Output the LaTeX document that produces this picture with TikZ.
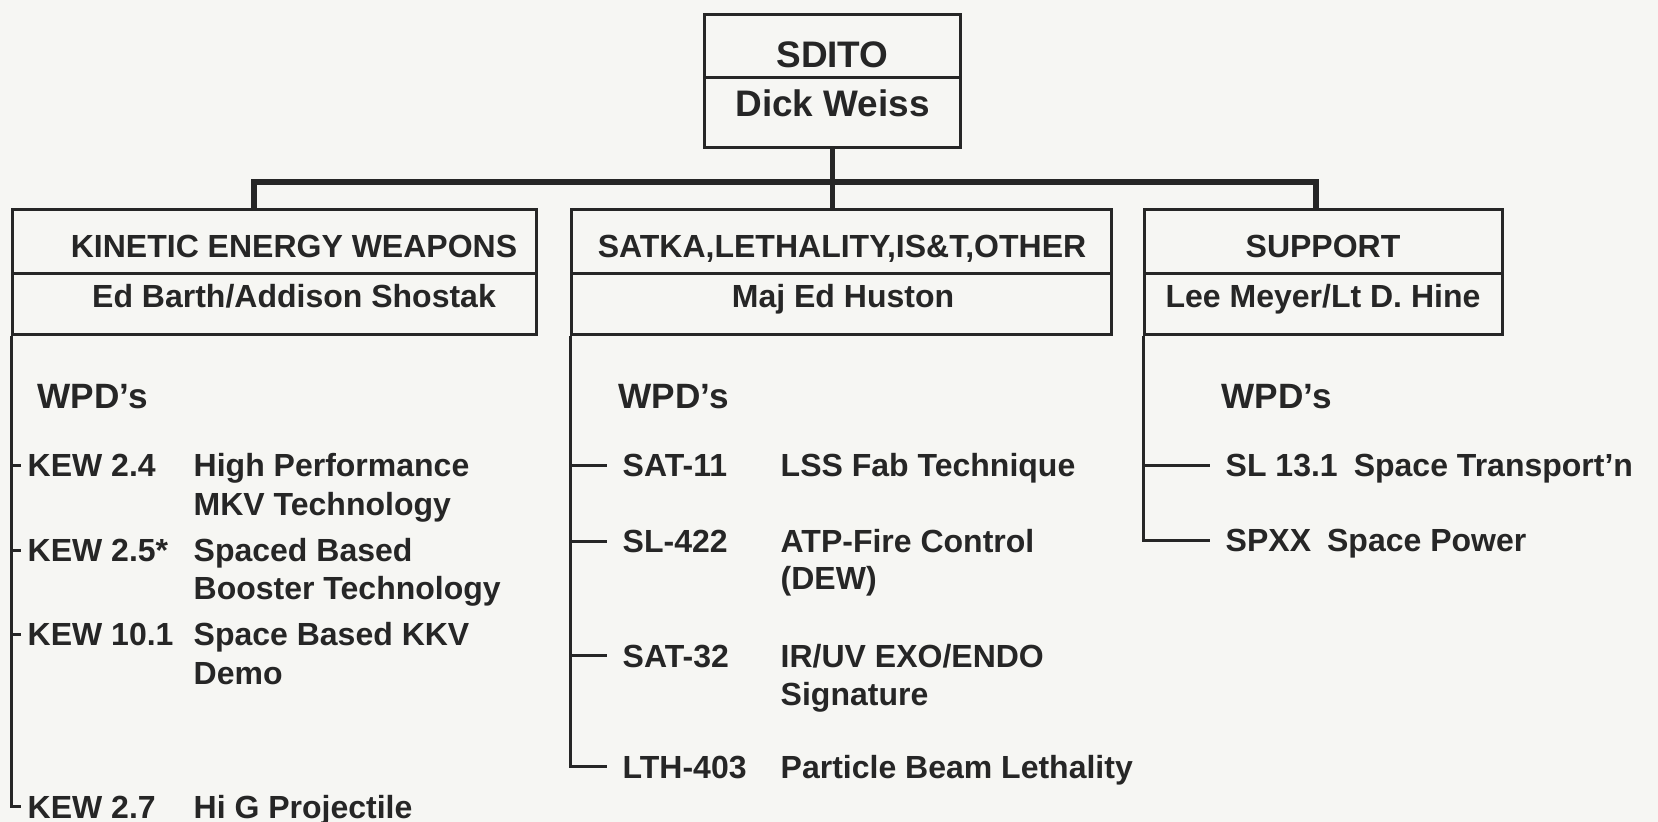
\documentclass[tikz,border=0pt]{standalone}
\usepackage{fontspec}
\setmainfont{Liberation Sans}
\usetikzlibrary{calc,positioning}
\definecolor{inkGray}{RGB}{38,38,38}
\definecolor{paperWhite}{RGB}{246,246,243}

\begin{document}
\begin{tikzpicture}[x=0.01cm,y=-0.01cm,
  every node/.style={text=inkGray,font=\bfseries\fontsize{9.1}{11}\selectfont},
  orgbox/.style={draw=inkGray,line width=.85pt,inner sep=0pt},
  divider/.style={draw=inkGray,line width=.85pt},
  head/.style={anchor=base,inner sep=0pt},
  bighead/.style={head,font=\bfseries\fontsize{10.5}{12}\selectfont},
  wpd/.style={anchor=base west,inner sep=0pt,font=\bfseries\fontsize{10}{12}\selectfont},
  code/.style={anchor=base west,inner xsep=.15cm,inner ysep=0pt,text height=6.5pt,text depth=0pt},
  kewcode/.style={code,inner xsep=.06cm},
  descr/.style={anchor=base west,inner sep=0pt},
  bus/.style={draw=inkGray,line width=1.9pt,line cap=rect},
  link/.style={draw=inkGray,line width=1.5pt},
  tree/.style={draw=inkGray,line width=.85pt}]
\fill[paperWhite] (0,0) rectangle (1658,822);
\useasboundingbox (0,0) rectangle (1658,822);

% top box
\node[orgbox,minimum width=2.55cm,minimum height=1.32cm] (sdito) at (832.5,81) {};
\draw[divider] (sdito.west |- 0,78) -- (sdito.east |- 0,78);
\node[bighead] (sditoT) at (832.5,68) {SDITO};
\node[bighead] (sditoN) at (832.5,117) {Dick Weiss};

% second row boxes
\node[orgbox,minimum width=5.23cm,minimum height=1.24cm] (kew) at (274.5,272) {};
\node[orgbox,minimum width=5.39cm,minimum height=1.24cm] (sat) at (841.5,272) {};
\node[orgbox,minimum width=3.57cm,minimum height=1.24cm] (sup) at (1323.5,272) {};
\draw[divider] (kew.west |- 0,274) -- (kew.east |- 0,274);
\draw[divider] (sat.west |- 0,274) -- (sat.east |- 0,274);
\draw[divider] (sup.west |- 0,274) -- (sup.east |- 0,274);

\node[head] (kewT) at (294,258) {KINETIC ENERGY WEAPONS};
\node[head] (kewN) at (294,308) {Ed Barth/Addison Shostak};
\node[head] (satT) at (842,258) {SATKA,LETHALITY,IS\&T,OTHER};
\node[head] (satN) at (843,308) {Maj Ed Huston};
\node[head] (supT) at (1323,258) {SUPPORT};
\node[head] (supN) at (1323,308) {Lee Meyer/Lt D. Hine};

% connectors
\coordinate (busL) at (254,182);
\coordinate (busR) at (1316,182);
\draw[bus] (busL) -- (busR);
\draw[link] (sdito.south) -- (sdito.south |- sat.north);
\draw[link] (busL) -- (busL |- kew.north);
\draw[link] (busR) -- (busR |- sup.north);

% WPD lists
\node[wpd] (kewW) at (37,409) {WPD's};
\node[wpd] (satW) at (618,409) {WPD's};
\node[wpd] (supW) at (1221,409) {WPD's};

\node[kewcode] (k24) at (21,477) {KEW 2.4};
\node[descr] (k24a) at (193,477) {High Performance};
\node[descr] (k24b) at (193,516) {MKV Technology};
\node[kewcode] (k25) at (21,562) {KEW 2.5*};
\node[descr] (k25a) at (193,562) {Spaced Based};
\node[descr] (k25b) at (193,600) {Booster Technology};
\node[kewcode] (k101) at (21,646) {KEW 10.1};
\node[descr] (k101a) at (193,646) {Space Based KKV};
\node[descr] (k101b) at (193,684) {Demo};
\node[kewcode] (k27) at (21,818) {KEW 2.7};
\node[descr] (k27a) at (193,818) {Hi G Projectile};

\node[code] (s11) at (607,477) {SAT-11};
\node[descr] (s11a) at (780,477) {LSS Fab Technique};
\node[code] (s422) at (607,553) {SL-422};
\node[descr] (s422a) at (780,553) {ATP-Fire Control};
\node[descr] (s422b) at (780,590) {(DEW)};
\node[code] (s32) at (607,667) {SAT-32};
\node[descr] (s32a) at (780,667) {IR/UV EXO/ENDO};
\node[descr] (s32b) at (780,705) {Signature};
\node[code] (l403) at (607,778) {LTH-403};
\node[descr] (l403a) at (780,778) {Particle Beam Lethality};

\node[code] (sl13) at (1210,477) {SL 13.1\enspace Space Transport'n};
\node[code] (spxx) at (1210,552) {SPXX\enspace Space Power};

% list lines
\draw[tree] (kew.south west) |- (k27.west);
\draw[tree] (kew.south west |- k24.west) -- (k24.west);
\draw[tree] (kew.south west |- k25.west) -- (k25.west);
\draw[tree] (kew.south west |- k101.west) -- (k101.west);
\draw[tree] (sat.south west) |- (l403.west);
\draw[tree] (sat.south west |- s11.west) -- (s11.west);
\draw[tree] (sat.south west |- s422.west) -- (s422.west);
\draw[tree] (sat.south west |- s32.west) -- (s32.west);
\draw[tree] (sup.south west) |- (spxx.west);
\draw[tree] (sup.south west |- sl13.west) -- (sl13.west);
\end{tikzpicture}
\end{document}
